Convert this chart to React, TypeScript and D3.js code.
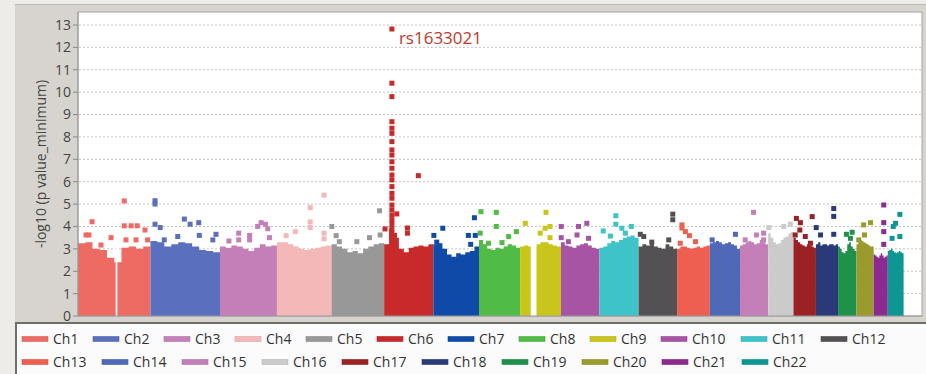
import React from "react";
import * as d3 from "d3";

// chromosome names, lengths in Mb and colours
const chromNames = [
  "Ch1", "Ch2", "Ch3", "Ch4", "Ch5", "Ch6", "Ch7", "Ch8", "Ch9", "Ch10", "Ch11",
  "Ch12", "Ch13", "Ch14", "Ch15", "Ch16", "Ch17", "Ch18", "Ch19", "Ch20", "Ch21", "Ch22",
];
const chromLengths = [252, 242, 198, 190, 183, 171, 159, 143, 142, 134, 136, 134, 114, 105, 98, 88, 78, 77, 64, 60, 49, 55];
const chromColors = [
  "#ee6b63", "#5a6fbd", "#c57fb8", "#f4b8b8", "#989898", "#c8292b", "#0f4aa8", "#50bb45",
  "#c9c51a", "#a854a4", "#3ec3c8", "#545154", "#ee5f52", "#4f68b8", "#c47fb9", "#cbcbcb",
  "#9a2124", "#283a78", "#20914a", "#9a9a2d", "#8b2a8f", "#0e9694",
];

// top of the dense SNP band, 10 bins per chromosome (-log10 p)
const bandTops = [
  [3.25, 3.3, 3.0, 2.95, 2.6, 2.4, 3.05, 3.1, 3.0, 3.1],
  [3.35, 3.3, 3.1, 3.2, 3.3, 3.25, 3.1, 2.95, 2.9, 2.85],
  [3.1, 3.05, 3.15, 3.1, 3.0, 2.9, 3.05, 3.2, 3.1, 3.15],
  [3.3, 3.3, 3.2, 3.1, 3.0, 2.95, 3.0, 3.05, 3.1, 3.15],
  [3.2, 3.1, 3.0, 2.85, 2.9, 2.8, 3.0, 3.1, 3.2, 3.25],
  [3.2, 3.9, 3.5, 3.0, 2.85, 3.05, 3.1, 3.15, 3.1, 3.2],
  [3.2, 3.25, 3.0, 2.75, 2.65, 2.8, 2.75, 2.85, 2.9, 3.1],
  [3.4, 3.2, 3.0, 2.95, 3.05, 3.0, 3.1, 3.2, 3.15, 3.05],
  [3.1, 3.15, 3.1, 3.1, 3.2, 3.3, 3.3, 3.2, 3.15, 3.1],
  [3.3, 3.15, 3.1, 3.05, 3.15, 3.2, 3.25, 3.15, 3.05, 3.0],
  [3.05, 3.1, 3.25, 3.35, 3.3, 3.4, 3.5, 3.55, 3.6, 3.5],
  [3.1, 3.2, 3.15, 3.3, 3.1, 3.05, 3.0, 3.2, 3.1, 3.0],
  [3.0, 3.1, 3.1, 3.05, 3.0, 3.05, 3.1, 3.05, 3.1, 3.15],
  [3.25, 3.3, 3.35, 3.3, 3.2, 3.25, 3.3, 3.2, 3.15, 3.0],
  [3.15, 3.2, 3.3, 3.35, 3.3, 3.2, 3.25, 3.4, 3.3, 3.2],
  [3.7, 3.5, 3.3, 3.2, 3.25, 3.4, 3.5, 3.55, 3.7, 3.75],
  [3.5, 3.4, 3.3, 3.2, 3.15, 3.1, 3.2, 3.15, 3.1, 3.05],
  [3.2, 3.3, 3.15, 3.2, 3.2, 3.15, 3.2, 3.2, 3.15, 3.2],
  [3.1, 3.0, 2.85, 2.8, 2.9, 3.2, 3.3, 3.1, 3.0, 2.9],
  [3.2, 3.3, 3.4, 3.35, 3.3, 3.25, 3.2, 3.15, 3.1, 3.1],
  [2.75, 2.7, 2.65, 2.6, 2.7, 2.8, 2.7, 2.6, 2.65, 2.7],
  [2.9, 2.95, 3.0, 2.9, 2.85, 2.8, 2.85, 2.9, 2.85, 2.8],
];

// regions with no SNPs: [chromosome index, start Mb, end Mb]
const gaps: [number, number, number][] = [
  [0, 131, 137],
  [8, 37, 57],
];

// single SNPs standing out above the band: [chromosome index, Mb, -log10 p]
const peakValues = [12.82, 10.4, 9.8, 8.68, 8.39, 8.16, 7.79, 7.42, 7.19, 6.89, 6.6, 6.3, 6.08, 5.78, 5.48, 5.26, 4.96, 4.74, 4.51, 4.3, 4.1, 3.9, 3.7, 3.5];
const hits: [number, number, number][] = [
  [0, 161, 5.14], [0, 49, 4.21], [0, 161, 4.03], [0, 185, 4.03], [0, 206, 4.03], [0, 233, 3.84],
  [0, 28, 3.62], [0, 38, 3.62], [0, 115, 3.5], [0, 167, 3.4], [0, 202, 3.4], [0, 242, 3.4], [0, 80, 3.17],
  [1, 16, 5.15], [1, 16, 5.0], [1, 16, 4.1], [1, 34, 3.95], [1, 118, 4.33], [1, 138, 4.1], [1, 168, 4.17],
  [1, 95, 3.55], [1, 170, 3.6], [1, 228, 3.65], [1, 217, 3.4], [1, 48, 3.4],
  [2, 143, 4.17], [2, 131, 4.0], [2, 158, 4.1], [2, 166, 3.9], [2, 65, 3.7], [2, 65, 3.4], [2, 103, 3.6],
  [2, 103, 3.4], [2, 31, 3.35], [2, 172, 3.5],
  [3, 32, 3.59], [3, 64, 3.77], [3, 164, 5.4], [3, 116, 4.84], [3, 116, 4.2], [3, 116, 3.95], [3, 164, 3.7], [3, 164, 3.45],
  [4, 1, 4.0], [4, 167, 4.7], [4, 169, 3.62], [4, 132, 3.5], [4, 16, 3.59], [4, 27, 3.32], [4, 88, 3.32],
  ...peakValues.map((v): [number, number, number] => [5, 27, v]),
  [5, 44, 4.56], [5, 3, 3.89], [5, 81, 3.93], [5, 81, 3.7], [5, 119, 6.27], [5, 36, 3.6],
  [6, 33, 3.92], [6, 143, 4.39], [6, 122, 3.6], [6, 146, 3.6], [6, 130, 3.2], [6, 2, 3.6], [6, 12, 3.3],
  [7, 7, 4.66], [7, 60, 4.63], [7, 60, 4.0], [7, 130, 3.77], [7, 103, 3.55], [7, 80, 3.28], [7, 4, 3.7], [7, 33, 3.25],
  [8, 18, 4.14], [8, 90, 4.63], [8, 104, 4.0], [8, 87, 3.92], [8, 70, 3.7], [8, 104, 3.5],
  [9, 1, 4.0], [9, 1, 3.5], [9, 90, 4.14], [9, 61, 4.0], [9, 56, 3.62], [9, 96, 3.47], [9, 26, 3.32],
  [10, 57, 4.48], [10, 57, 4.1], [10, 78, 3.92], [10, 111, 4.0], [10, 38, 3.57], [10, 90, 3.7], [10, 13, 3.8],
  [11, 119, 4.55], [11, 119, 4.3], [11, 6, 3.65], [11, 18, 3.55], [11, 105, 3.4], [11, 46, 3.3],
  [12, 17, 4.07], [12, 17, 3.93], [12, 29, 3.77], [12, 43, 3.59], [12, 64, 3.32], [12, 11, 3.25],
  [13, 89, 3.65], [13, 8, 3.4],
  [14, 47, 4.63], [14, 82, 3.7], [14, 82, 3.4], [14, 57, 3.62], [14, 18, 3.4],
  [15, 54, 4.0], [15, 77, 4.1], [15, 2, 3.95],
  [16, 10, 4.36], [16, 65, 4.44], [16, 24, 4.17], [16, 22, 3.84], [16, 41, 3.55], [16, 59, 3.25], [16, 6, 3.62],
  [17, 62, 4.8], [17, 62, 4.45], [17, 1, 3.95], [17, 62, 3.65], [17, 16, 3.62],
  [18, 29, 3.65], [18, 49, 3.74], [18, 43, 3.47],
  [19, 25, 4.07], [19, 49, 4.17], [19, 28, 3.62], [19, 8, 3.4],
  [20, 35, 4.96], [20, 35, 4.17], [20, 35, 3.77], [20, 35, 3.2],
  [21, 42, 4.54], [21, 27, 4.14], [21, 19, 4.0], [21, 42, 3.55], [21, 15, 3.47],
];
const topSnp = { label: "rs1633021", chrom: 5, pos: 27, value: 12.82 };
const yTicks = d3.range(0, 14);

const W = 926;
const H = 374;
const FONT = "'Open Sans', 'DejaVu Sans', sans-serif";

export default function App() {
  const starts = chromLengths.map((_, i) => d3.sum(chromLengths.slice(0, i)));
  const x = d3.scaleLinear().domain([0, 2936]).range([78, 922]);
  const y = d3.scaleLinear().domain([0, 13]).range([316, 25]);
  const plotTop = 12;

  const band = d3
    .area<[number, number]>()
    .x((d) => x(d[0]))
    .y0(y(0))
    .y1((d) => y(d[1]))
    .curve(d3.curveStepAfter);

  const bandPath = (i: number) => {
    const tops = bandTops[i];
    const step = chromLengths[i] / tops.length;
    const pts: [number, number][] = tops.map((v, j) => [starts[i] + j * step, v]);
    pts.push([starts[i] + chromLengths[i], tops[tops.length - 1]]);
    return band(pts) || "";
  };

  const sq = 5;

  // legend flow layout
  let lx = 22;
  const legendItems = chromNames.map((name, i) => {
    if (i === 12) lx = 22;
    const item = { name, color: chromColors[i], x: lx, row: i < 12 ? 0 : 1 };
    lx += 44 + 9 * name.length;
    return item;
  });

  const peakX = x(starts[topSnp.chrom] + topSnp.pos);
  const peakY = y(topSnp.value);

  return (
    <div style={{ position: "absolute", left: 0, top: 0 }}>
      <svg width={W} height={H} style={{ display: "block", fontFamily: FONT }}>
        <rect width={W} height={H} fill="#eeece9" />
        <rect x={15} y={4} width={W - 15} height={H - 4} fill="#d7d4cf" />
        <line x1={15} x2={W} y1={4.5} y2={4.5} stroke="#bdbab5" />

        {/* plot area */}
        <rect x={78} y={plotTop} width={922 - 78} height={y(0) - plotTop} fill="#ffffff" stroke="#a3a3a3" />

        {yTicks.slice(1).map((t) => (
          <line key={t} x1={79} x2={921} y1={y(t)} y2={y(t)} stroke="#c4c4c4" strokeDasharray="2,2" />
        ))}

        {chromLengths.map((_, i) => (
          <path key={"b" + i} d={bandPath(i)} fill={chromColors[i]} />
        ))}
        {gaps.map(([c, s, e], i) => (
          <rect
            key={"g" + i}
            x={x(starts[c] + s)}
            width={x(starts[c] + e) - x(starts[c] + s)}
            y={y(d3.max(bandTops[c]) as number)}
            height={y(0) - y(d3.max(bandTops[c]) as number)}
            fill="#ffffff"
          />
        ))}
        {hits.map(([c, p, v], i) => (
          <rect
            key={"h" + i}
            x={x(starts[c] + p) - sq / 2}
            y={y(v) - sq / 2}
            width={sq}
            height={sq}
            fill={chromColors[c]}
          />
        ))}

        <text x={peakX + 7} y={peakY + 15} fontSize={17} fill="#c0392b">
          {topSnp.label}
        </text>

        {/* y axis */}
        <line x1={78} x2={78} y1={plotTop} y2={y(0)} stroke="#9a9a9a" />
        <line x1={78} x2={922} y1={y(0)} y2={y(0)} stroke="#9a9a9a" />
        {yTicks.map((t) => (
          <g key={"t" + t}>
            <line x1={73} x2={78} y1={y(t)} y2={y(t)} stroke="#8a8a8a" />
            <text x={71} y={y(t)} dy="0.35em" textAnchor="end" fontSize={14} fill="#444">
              {t}
            </text>
          </g>
        ))}
        <text
          transform={`translate(46,${(y(0) + plotTop) / 2}) rotate(-90)`}
          textAnchor="middle"
          fontSize={14}
          fill="#444"
        >
          -log10 (p value_minimum)
        </text>

        {/* legend */}
        <rect x={16} y={323} width={W - 15} height={H - 322} fill="#fbfbfb" stroke="#6e6e6e" strokeWidth={2} />
        {legendItems.map((d) => (
          <g key={d.name} transform={`translate(${d.x},${d.row === 0 ? 339 : 362})`}>
            <rect x={0} y={-2.5} width={26} height={5} fill={d.color} stroke={d3.color(d.color)!.darker(0.3).toString()} strokeWidth={0.6} />
            <text x={31} y={0} dy="0.36em" fontSize={14} fill="#333">
              {d.name}
            </text>
          </g>
        ))}
      </svg>
    </div>
  );
}
